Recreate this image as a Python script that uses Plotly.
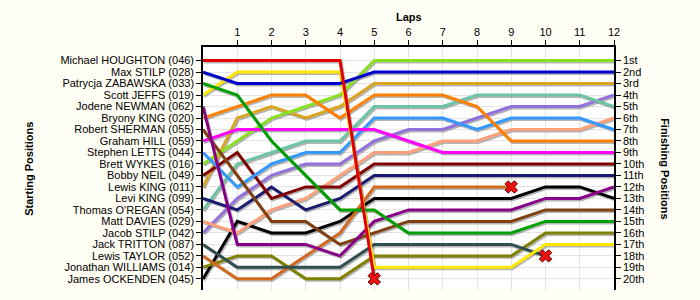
import plotly.graph_objects as go

laps = list(range(13))
lap_ticks = list(range(1, 13))

drivers = [
    "Michael HOUGHTON (046)", "Max STILP (028)", "Patrycja ZABAWSKA (033)", "Scott JEFFS (019)",
    "Jodene NEWMAN (062)", "Bryony KING (020)", "Robert SHERMAN (055)", "Graham HILL (059)",
    "Stephen LETTS (044)", "Brett WYKES (016)", "Bobby NEIL (049)", "Lewis KING (011)",
    "Levi KING (099)", "Thomas O'REGAN (054)", "Matt DAVIES (029)", "Jacob STILP (042)",
    "Jack TRITTON (087)", "Lewis TAYLOR (052)", "Jonathan WILLIAMS (014)", "James OCKENDEN (045)",
]
finish_labels = ["1st", "2nd", "3rd", "4th", "5th", "6th", "7th", "8th", "9th", "10th",
                 "11th", "12th", "13th", "14th", "15th", "16th", "17th", "18th", "19th", "20th"]

pos_houghton = [1, 1, 1, 1, 1, 20]
pos_max_stilp = [2, 3, 3, 3, 3, 2, 2, 2, 2, 2, 2, 2, 2]
pos_zabawska = [3, 4, 8, 11, 14, 14, 16, 16, 16, 16, 15, 15, 15]
pos_jeffs = [4, 2, 2, 2, 2, 19, 19, 19, 19, 19, 17, 17, 17]
pos_newman = [5, 17, 17, 17, 18, 15, 14, 14, 14, 14, 13, 13, 12]
pos_bryony = [6, 5, 4, 4, 6, 4, 4, 4, 5, 8, 8, 8, 8]
pos_sherman = [7, 11, 15, 15, 17, 16, 15, 15, 15, 15, 14, 14, 14]
pos_hill = [8, 7, 7, 7, 7, 7, 8, 9, 9, 9, 9, 9, 9]
pos_letts = [9, 12, 10, 9, 9, 6, 6, 6, 7, 6, 6, 6, 7]
pos_wykes = [10, 8, 6, 5, 4, 1, 1, 1, 1, 1, 1, 1, 1]
pos_neil = [11, 9, 13, 12, 12, 10, 10, 10, 10, 10, 10, 10, 10]
pos_lewis_king = [12, 6, 5, 6, 5, 3, 3, 3, 3, 3, 3, 3, 3]
pos_levi_king = [13, 14, 12, 14, 13, 11, 11, 11, 11, 11, 11, 11, 11]
pos_oregan = [14, 10, 9, 8, 8, 5, 5, 5, 4, 4, 4, 4, 5]
pos_davies = [15, 16, 14, 13, 11, 9, 9, 8, 8, 7, 7, 7, 6]
pos_jacob_stilp = [16, 13, 11, 10, 10, 8, 7, 7, 6, 5, 5, 5, 4]
pos_tritton = [17, 19, 19, 19, 19, 17, 17, 17, 17, 17, 18]
pos_taylor = [18, 20, 20, 18, 16, 12, 12, 12, 12, 12]
pos_williams = [19, 18, 18, 20, 20, 18, 18, 18, 18, 18, 16, 16, 16]
pos_ockenden = [20, 15, 16, 16, 15, 13, 13, 13, 13, 13, 12, 12, 13]

series = [pos_houghton, pos_max_stilp, pos_zabawska, pos_jeffs, pos_newman, pos_bryony,
          pos_sherman, pos_hill, pos_letts, pos_wykes, pos_neil, pos_lewis_king,
          pos_levi_king, pos_oregan, pos_davies, pos_jacob_stilp, pos_tritton,
          pos_taylor, pos_williams, pos_ockenden]
retired = [True] + [False] * 15 + [True, True, False, False]

colors = ["#E00000", "#0000CC", "#00A000", "#FFE800", "#880088", "#FF8000",
          "#804010", "#FF00FF", "#3399FF", "#88E020", "#800000", "#DAA520",
          "#1A1A70", "#6CC4A4", "#FFA07A", "#9370DB", "#2F4F4F", "#D2691E",
          "#808000", "#000000"]

fig = go.Figure()

# shadows
for s in series:
    n = len(s)
    fig.add_trace(go.Scatter(x=[v + 0.035 for v in laps[:n]], y=[p + 0.13 for p in s],
                             mode="lines", line=dict(color="rgba(120,120,120,0.55)", width=3),
                             showlegend=False, hoverinfo="skip"))

# main lines
for i in range(len(series) - 1, -1, -1):
    s = series[i]
    n = len(s)
    fig.add_trace(go.Scatter(x=laps[:n], y=s, mode="lines",
                             line=dict(color=colors[i], width=3),
                             name=drivers[i], showlegend=False))

# retirement markers
for i, s in enumerate(series):
    if retired[i]:
        n = len(s)
        fig.add_trace(go.Scatter(x=[laps[n - 1]], y=[s[-1]], mode="markers",
                                 marker=dict(symbol="x", size=11, color="#EE1111",
                                             line=dict(color="#660000", width=1)),
                                 showlegend=False))

fig.add_trace(go.Scatter(x=[None], y=[None], yaxis="y2", showlegend=False))

font = dict(family="Liberation Sans, Arial, sans-serif", size=11, color="#000000")
tfont = dict(family="Liberation Sans, Arial, sans-serif", size=11, color="#000000")

fig.update_layout(
    width=700, height=300,
    margin=dict(l=203, r=86, t=47, b=10),
    paper_bgcolor="#FFFEF4",
    plot_bgcolor="#FFFFFF",
    font=font,
    xaxis=dict(range=[0, 12], side="top", tickvals=lap_ticks, ticktext=[str(v) for v in lap_ticks],
               showgrid=True, gridcolor="#E4E4E4", gridwidth=1, zeroline=False,
               showline=True, linecolor="#000000", linewidth=1.5,
               ticks="outside", ticklen=5, tickcolor="#000000", tickfont=font),
    yaxis=dict(range=[20.97, -0.18], tickvals=list(range(1, 21)), ticktext=drivers,
               showgrid=True, gridcolor="#E4E4E4", gridwidth=1, zeroline=False,
               showline=True, linecolor="#000000", linewidth=1.5,
               ticks="outside", ticklen=5, tickcolor="#000000", tickfont=font),
    yaxis2=dict(range=[20.97, -0.18], overlaying="y", side="right",
                tickvals=list(range(1, 21)), ticktext=finish_labels,
                showgrid=False, zeroline=False,
                showline=True, linecolor="#000000", linewidth=1.5,
                ticks="outside", ticklen=5, tickcolor="#000000", tickfont=font),
    annotations=[
        dict(text="<b>Laps</b>", xref="paper", yref="paper", x=0.5, y=1.123,
             xanchor="center", yanchor="middle", showarrow=False, font=tfont),
        dict(text="<b>Starting Positions</b>", xref="paper", yref="paper", x=-0.425, y=0.5,
             xanchor="center", yanchor="middle",
             textangle=-90, showarrow=False, font=tfont),
        dict(text="<b>Finishing Positions</b>", xref="paper", yref="paper", x=1.125, y=0.5,
             xanchor="center", yanchor="middle",
             textangle=90, showarrow=False, font=tfont),
    ],
)

fig.write_html("out.html")
